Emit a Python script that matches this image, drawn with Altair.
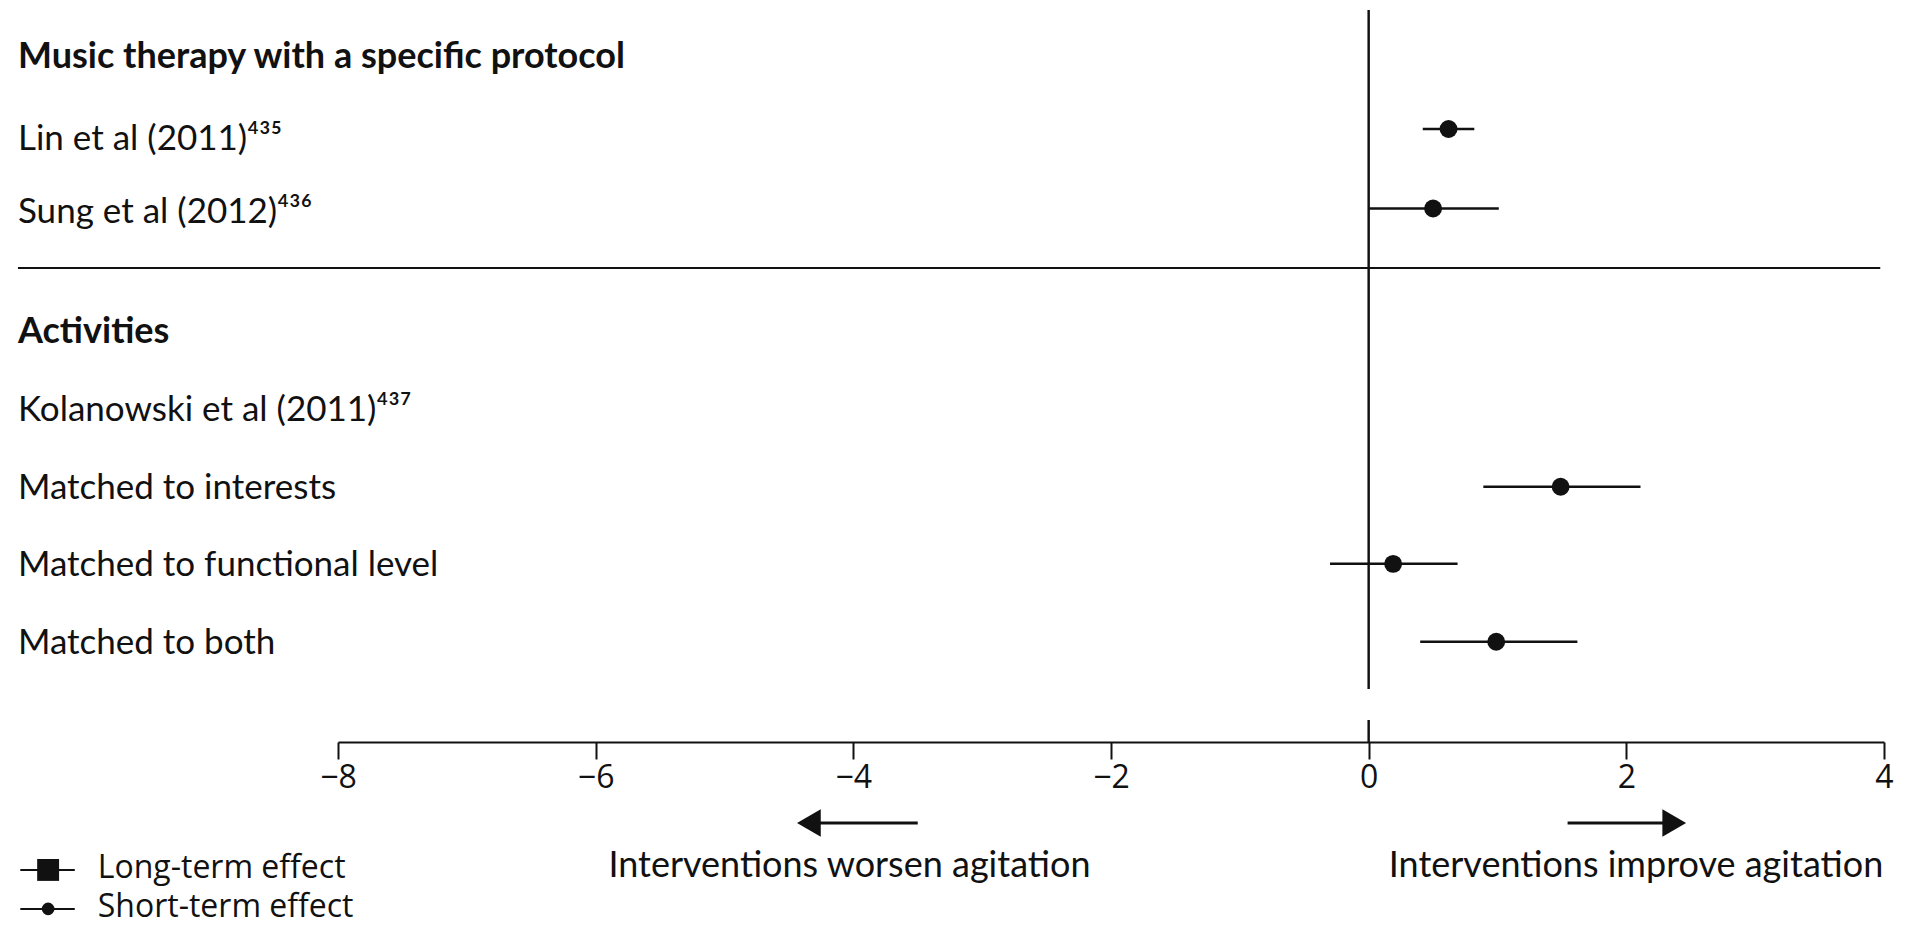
import altair as alt
import pandas as pd

# ---------------- data ----------------
section_titles = ["Music therapy with a specific protocol", "Activities"]
section_rows = [0.1, 3.55]

study_labels = [
    "Lin et al (2011)⁴³⁵",
    "Sung et al (2012)⁴³⁶",
    "Kolanowski et al (2011)⁴³⁷",
    "Matched to interests",
    "Matched to functional level",
    "Matched to both",
]
label_rows = [1.12, 2.04, 4.53, 5.52, 6.49, 7.47]

effect_names = ["Lin et al (2011)", "Sung et al (2012)", "Matched to interests",
                "Matched to functional level", "Matched to both"]
effect_rows = [1.0, 2.0, 5.5, 6.47, 7.45]
effect_est = [0.62, 0.50, 1.49, 0.19, 0.99]
effect_low = [0.42, 0.00, 0.89, -0.30, 0.40]
effect_high = [0.82, 1.01, 2.11, 0.69, 1.62]

tick_values = [-8, -6, -4, -2, 0, 2, 4]

direction_texts = ["Interventions worsen agitation", "Interventions improve agitation"]
direction_x = [-4.03, 2.075]

legend_texts = ["Long-term effect", "Short-term effect"]
legend_shapes = ["square", "circle"]

# ---------------- tables ----------------
titles_df = pd.DataFrame({"label": section_titles, "row": section_rows})
labels_df = pd.DataFrame({"label": study_labels, "row": label_rows})
eff_df = pd.DataFrame({"name": effect_names, "row": effect_rows, "est": effect_est,
                       "low": effect_low, "high": effect_high})
arrows_df = pd.DataFrame({"start": [-3.50, 1.544], "end": [-4.30, 2.33],
                          "head": [-4.345, 2.372],
                          "shape": ["triangle-left", "triangle-right"]})
dir_df = pd.DataFrame({"label": direction_texts, "x": direction_x})
leg_df = pd.DataFrame({"label": legend_texts, "shape": legend_shapes, "row": [10.32, 10.81]})

INK = "#111111"
FONT = "Lato"

x_scale = alt.Scale(domain=[-8, 4], nice=False, zero=False)
y_scale = alt.Scale(domain=[-0.6226, 8.7107], reverse=True, nice=False, zero=False)
x_axis = alt.Axis(values=tick_values, tickSize=17, tickWidth=2, tickColor=INK,
                  domainColor=INK, domainWidth=2, labelFont="Open Sans",
                  labelFontSize=32, labelColor=INK, labelPadding=3, grid=False,
                  title=None, labelFlush=False)


def X(field):
    return alt.X(field, type="quantitative", scale=x_scale, axis=x_axis)


def XD(v):
    return alt.XDatum(v, type="quantitative", scale=x_scale, axis=x_axis)


def Y(field):
    return alt.Y(field, type="quantitative", scale=y_scale, axis=None)


def YD(v):
    return alt.YDatum(v, type="quantitative", scale=y_scale, axis=None)


LEFT = -10.484

zero_line = alt.Chart(titles_df).mark_rule(color=INK, strokeWidth=2).encode(
    x=XD(0), y=YD(-0.497), y2=alt.Y2Datum(8.044))
zero_tick = alt.Chart(titles_df).mark_rule(color=INK, strokeWidth=2).encode(
    x=XD(0), y=YD(8.434), y2=alt.Y2Datum(8.711))
separator = alt.Chart(titles_df).mark_rule(color=INK, strokeWidth=2).encode(
    x=XD(LEFT), x2=alt.X2Datum(3.97), y=YD(2.748))

titles = alt.Chart(titles_df).mark_text(
    align="left", baseline="middle", font=FONT, fontSize=36, fontWeight="bold", color=INK
).encode(x=XD(LEFT), y=Y("row"), text="label:N")

labels = alt.Chart(labels_df).mark_text(
    align="left", baseline="middle", font=FONT, fontSize=35, color=INK
).encode(x=XD(LEFT), y=Y("row"), text="label:N")

ci = alt.Chart(eff_df).mark_rule(color=INK, strokeWidth=2.5).encode(
    x=X("low"), x2=alt.X2("high"), y=Y("row"))
dots = alt.Chart(eff_df).mark_point(
    shape="circle", filled=True, color=INK, size=320, opacity=1).encode(
    x=X("est"), y=Y("row"))

shafts = alt.Chart(arrows_df).mark_rule(color=INK, strokeWidth=3).encode(
    x=X("start"), x2=alt.X2("end"), y=YD(9.73))
heads = alt.Chart(arrows_df).mark_point(filled=True, color=INK, size=750, opacity=1).encode(
    x=X("head"), y=YD(9.73), shape=alt.Shape("shape:N", scale=None))

dir_text = alt.Chart(dir_df).mark_text(
    align="center", baseline="middle", font=FONT, fontSize=36, color=INK
).encode(x=X("x"), y=YD(10.27), text="label:N")

leg_lines = alt.Chart(leg_df).mark_rule(color=INK, strokeWidth=2).encode(
    x=XD(-10.466), x2=alt.X2Datum(-10.043), y=Y("row"))
leg_square = alt.Chart(leg_df).transform_filter(alt.datum.shape == "square").mark_point(
    shape="square", filled=True, color=INK, size=480, opacity=1).encode(
    x=XD(-10.25), y=Y("row"))
leg_circle = alt.Chart(leg_df).transform_filter(alt.datum.shape == "circle").mark_point(
    shape="circle", filled=True, color=INK, size=160, opacity=1).encode(
    x=XD(-10.25), y=Y("row"))
leg_text = alt.Chart(leg_df).mark_text(
    align="left", baseline="middle", font="Open Sans", fontSize=32, color=INK, dy=-2
).encode(x=XD(-9.865), y=Y("row"), text="label:N")

chart = alt.layer(
    zero_line, zero_tick, separator, titles, labels, ci, dots,
    shafts, heads, dir_text, leg_lines, leg_square, leg_circle, leg_text
).properties(
    width=1546, height=742,
    autosize=alt.AutoSizeParams(type="none"),
    padding={"left": 338, "top": 0, "right": 21, "bottom": 185},
    background="white",
).configure_view(stroke=None)

chart.save("out.html", embed_options={"renderer": "svg", "actions": False})
